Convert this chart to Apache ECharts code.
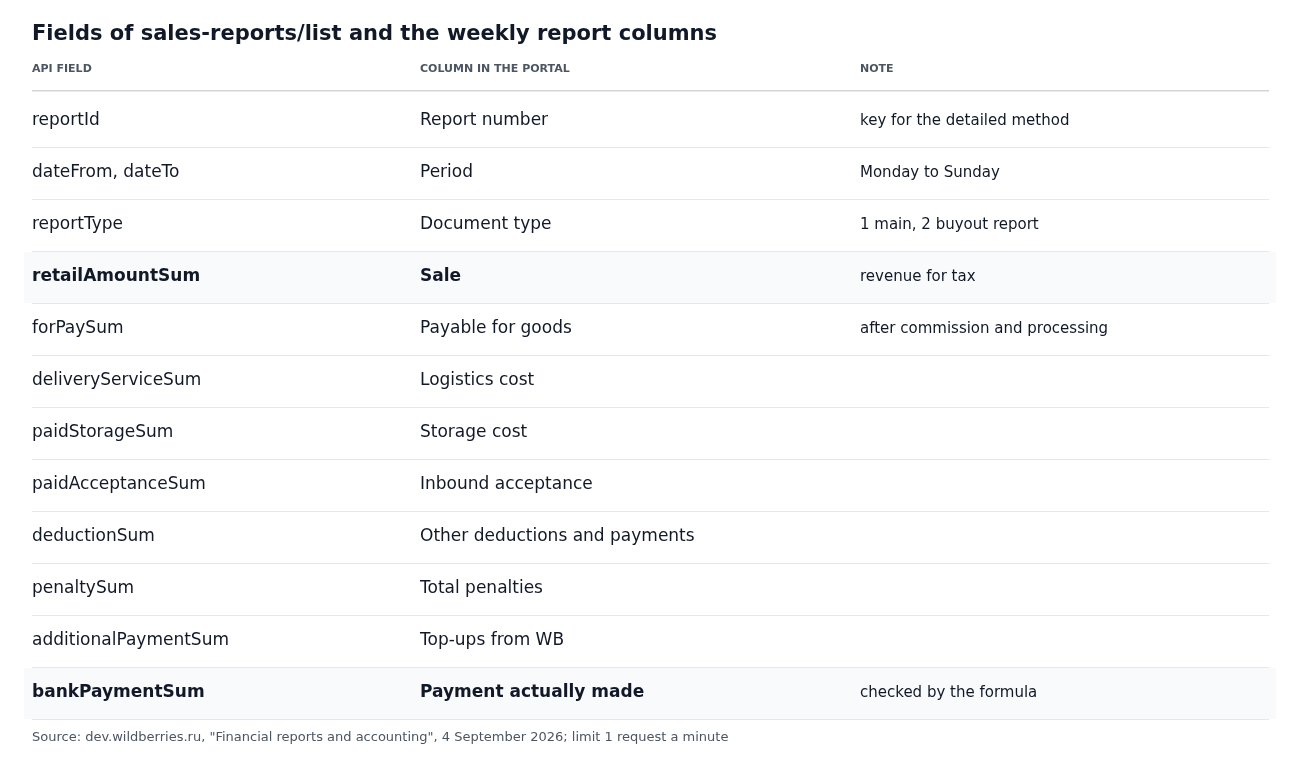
<!DOCTYPE html>
<html><head><meta charset="utf-8">
<script src="https://cdn.jsdelivr.net/npm/echarts@6/dist/echarts.min.js"></script>
<style>html,body{margin:0;padding:0;background:#fff}#c{width:1300px;height:764px}</style>
</head><body><div id="c"></div>
<script>
const headers = ["API FIELD", "COLUMN IN THE PORTAL", "NOTE"];
const apiFields = ["reportId","dateFrom, dateTo","reportType","retailAmountSum","forPaySum","deliveryServiceSum","paidStorageSum","paidAcceptanceSum","deductionSum","penaltySum","additionalPaymentSum","bankPaymentSum"];
const portalColumns = ["Report number","Period","Document type","Sale","Payable for goods","Logistics cost","Storage cost","Inbound acceptance","Other deductions and payments","Total penalties","Top-ups from WB","Payment actually made"];
const notes = ["key for the detailed method","Monday to Sunday","1 main, 2 buyout report","revenue for tax","after commission and processing","","","","","","","checked by the formula"];
const highlighted = [false,false,false,true,false,false,false,false,false,false,false,true];

const chart = echarts.init(document.getElementById('c'));
const F = 'DejaVu Sans, sans-serif';
const colX = [32, 420, 860];
const top0 = 95, rowH = 52;
const g = [];
g.push({type:'text', left:32, top:24, style:{text:'Fields of sales-reports/list and the weekly report columns', font:'bold 21px '+F, fill:'#111827'}});
headers.forEach((h,i)=>g.push({type:'text', left:colX[i], top:64, style:{text:h, font:'bold 11px '+F, fill:'#4b5563'}}));
g.push({type:'rect', shape:{x:32,y:90,width:1237,height:1.5}, style:{fill:'#d1d5db'}});
apiFields.forEach((f,i)=>{
  const y = top0 + i*rowH;
  if (highlighted[i]) g.push({type:'rect', shape:{x:24,y:y+1,width:1252,height:rowH-1}, style:{fill:'#f8fafc'}});
  const fw = highlighted[i] ? 'bold ' : '';
  const cy = y + rowH/2;
  g.push({type:'text', x:colX[0], y:cy, style:{text:f, font:fw+'17px '+F, fill:'#111827', verticalAlign:'middle'}});
  g.push({type:'text', x:colX[1], y:cy, style:{text:portalColumns[i], font:fw+'17px '+F, fill:'#111827', verticalAlign:'middle'}});
  if (notes[i]) g.push({type:'text', x:colX[2], y:cy, style:{text:notes[i], font:'15px '+F, fill:'#111827', verticalAlign:'middle'}});
  g.push({type:'rect', shape:{x:32,y:y+rowH,width:1237,height:1}, style:{fill:'#e5e7eb'}});
});
g.push({type:'text', left:32, top:731, style:{text:'Source: dev.wildberries.ru, "Financial reports and accounting", 4 September 2026; limit 1 request a minute', font:'13px '+F, fill:'#4b5563'}});
chart.setOption({animation:false, graphic:{elements:g}});
</script></body></html>
